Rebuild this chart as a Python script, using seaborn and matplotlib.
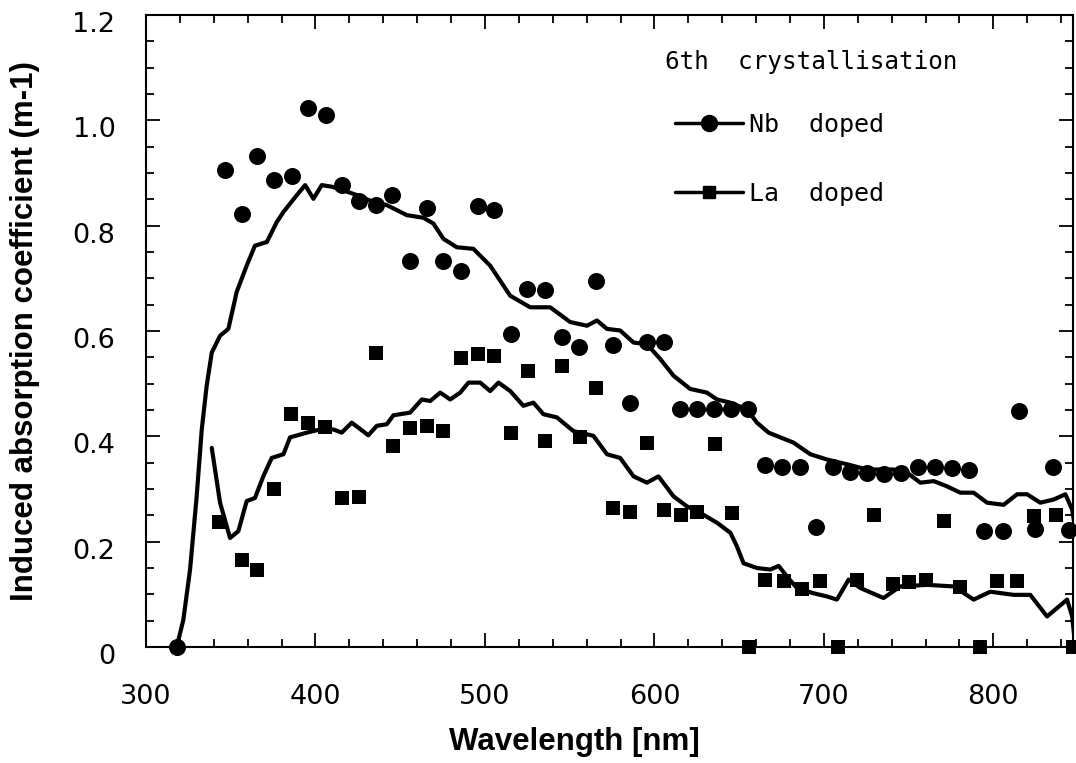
import matplotlib
matplotlib.use("Agg")
import matplotlib.pyplot as plt
import matplotlib.transforms as mtransforms
import seaborn as sns
import pandas as pd
from matplotlib.lines import Line2D
from matplotlib.ticker import MultipleLocator

# ---------------- data ----------------
nb_wl = [318, 346.6, 356.5, 365.7, 375.7, 386, 395.8, 406, 415.7, 425.6, 435.8, 445.4,
         455.8, 465.7, 475.5, 485.8, 496.2, 505.4, 515.3, 525.1, 535.4, 545.4, 555.6,
         565.5, 575.5, 585.7, 595.6, 605.7, 614.9, 625.1, 635.2, 645.1, 655.5, 665,
         675.3, 685.7, 695.6, 705.4, 715.2, 725.5, 735.7, 745.6, 755.3, 765.8, 775.6,
         785.4, 794.7, 805.7, 815, 824.8, 835.2, 844.5]
nb_abs = [0.0, 0.905, 0.822, 0.932, 0.887, 0.895, 1.023, 1.011, 0.878, 0.847, 0.839, 0.858,
          0.733, 0.834, 0.732, 0.714, 0.837, 0.829, 0.594, 0.680, 0.677, 0.589, 0.570,
          0.694, 0.573, 0.464, 0.579, 0.579, 0.451, 0.451, 0.451, 0.451, 0.451, 0.345,
          0.342, 0.342, 0.227, 0.342, 0.333, 0.330, 0.328, 0.331, 0.342, 0.341, 0.339,
          0.336, 0.221, 0.221, 0.448, 0.224, 0.341, 0.222]

la_wl = [343.1, 356.5, 365.7, 375.6, 385.6, 395.8, 405.7, 415.7, 425.6, 435.6, 446,
         455.8, 465.7, 475.5, 485.8, 495.8, 505.4, 515.3, 525.3, 535.5, 545.4, 555.8,
         565.5, 575.5, 585.7, 595.6, 605.8, 615.6, 625.4, 635.9, 645.7, 656.1, 665.4,
         676.2, 687.1, 697.8, 708.3, 719.5, 729.3, 740.7, 750.5, 760.4, 770.6, 780.5,
         792.3, 802.2, 814, 824.2, 837.2, 847]
la_abs = [0.238, 0.165, 0.147, 0.300, 0.442, 0.426, 0.418, 0.282, 0.285, 0.559, 0.381,
          0.416, 0.420, 0.410, 0.549, 0.556, 0.553, 0.407, 0.524, 0.391, 0.534, 0.399,
          0.491, 0.263, 0.257, 0.388, 0.260, 0.250, 0.257, 0.385, 0.255, 0.0, 0.128,
          0.126, 0.111, 0.126, 0.0, 0.127, 0.250, 0.120, 0.124, 0.127, 0.240, 0.113,
          0.0, 0.126, 0.126, 0.249, 0.250, 0.0]

nb_curve_wl = [318.1, 322.0, 326.0, 329.9, 332.9, 335.8, 338.8, 343.7, 348.6, 353.5, 359.4,
               364.3, 371.3, 377.2, 381.1, 389.0, 393.9, 398.8, 403.7, 409.6, 416.5, 424.4,
               434.2, 442.1, 453.9, 463.7, 469.6, 475.5, 483.4, 493.2, 503.1, 514.9, 526.7,
               538.5, 550.3, 560.2, 566.1, 572.0, 579.8, 587.7, 595.6, 603.4, 611.3, 621.1,
               631.0, 636.9, 644.8, 654.6, 660.5, 667.4, 682.1, 692.0, 701.8, 713.6, 725.4,
               741.1, 749.1, 756.9, 764.8, 772.7, 780.5, 788.4, 796.3, 806.1, 814.0, 819.9,
               827.7, 835.6, 842.5, 846.5, 848.4]
nb_curve_abs = [0.0, 0.051, 0.147, 0.286, 0.413, 0.496, 0.559, 0.591, 0.604, 0.674, 0.724,
                0.762, 0.769, 0.807, 0.826, 0.858, 0.877, 0.851, 0.877, 0.874, 0.867, 0.858,
                0.845, 0.839, 0.820, 0.815, 0.804, 0.775, 0.759, 0.756, 0.724, 0.667, 0.645,
                0.645, 0.617, 0.610, 0.620, 0.604, 0.601, 0.578, 0.575, 0.547, 0.515, 0.490,
                0.483, 0.470, 0.464, 0.451, 0.426, 0.407, 0.388, 0.366, 0.356, 0.347, 0.337,
                0.337, 0.331, 0.312, 0.315, 0.305, 0.293, 0.293, 0.274, 0.270, 0.290, 0.290,
                0.274, 0.280, 0.290, 0.261, 0.223]

la_curve_wl = [338.8, 343.7, 349.6, 354.5, 359.4, 364.3, 369.2, 374.2, 381.1, 385.0, 394.9,
               402.7, 410.6, 415.5, 421.4, 431.2, 436.2, 442.1, 446.0, 455.8, 462.8, 467.7,
               473.6, 479.5, 485.4, 490.3, 497.2, 503.1, 508.0, 514.9, 522.7, 528.6, 534.5,
               542.4, 552.2, 564.0, 572.0, 579.8, 587.7, 595.6, 602.4, 611.3, 619.2, 629.0,
               636.9, 644.8, 648.7, 652.6, 660.5, 668.4, 673.3, 678.2, 684.1, 693.9, 701.8,
               707.7, 714.6, 721.5, 735.2, 745.1, 760.9, 776.6, 788.4, 798.2, 812.0, 821.8,
               831.7, 843.5, 846.5, 848.4]
la_curve_abs = [0.378, 0.274, 0.207, 0.220, 0.277, 0.283, 0.324, 0.359, 0.366, 0.398, 0.407,
                0.413, 0.413, 0.407, 0.426, 0.402, 0.420, 0.423, 0.440, 0.445, 0.470, 0.467,
                0.483, 0.470, 0.483, 0.502, 0.502, 0.486, 0.502, 0.486, 0.458, 0.464, 0.442,
                0.436, 0.410, 0.401, 0.366, 0.359, 0.324, 0.312, 0.324, 0.286, 0.267, 0.251,
                0.236, 0.217, 0.191, 0.159, 0.150, 0.147, 0.154, 0.134, 0.112, 0.102, 0.096,
                0.090, 0.128, 0.112, 0.093, 0.115, 0.118, 0.115, 0.090, 0.105, 0.099, 0.099,
                0.058, 0.090, 0.058, 0.0]

x_ticks = [300, 400, 500, 600, 700, 800]
y_ticks = [0, 0.2, 0.4, 0.6, 0.8, 1.0, 1.2]
y_tick_labels = ["0", "0.2", "0.4", "0.6", "0.8", "1.0", "1.2"]
legend_title = "6th  crystallisation"
series_labels = ["Nb  doped", "La  doped"]
x_label = "Wavelength [nm]"
y_label = "Induced absorption coefficient (m-1)"

# ---------------- plotting ----------------
sns.set_style("ticks")
plt.rcParams["font.family"] = ["DejaVu Sans"]
for key in ["text.color", "axes.labelcolor", "xtick.color", "ytick.color", "axes.edgecolor"]:
    plt.rcParams[key] = "black"

fig = plt.figure(figsize=(10.76, 7.63), dpi=100)
ax = fig.add_axes([146 / 1076, 1 - 647 / 763, 927 / 1076, 632 / 763])

nb_pts = pd.DataFrame({"wl": nb_wl, "a": nb_abs})
la_pts = pd.DataFrame({"wl": la_wl, "a": la_abs})
nb_cur = pd.DataFrame({"wl": nb_curve_wl, "a": nb_curve_abs})
la_cur = pd.DataFrame({"wl": la_curve_wl, "a": la_curve_abs})

sns.lineplot(data=nb_cur, x="wl", y="a", ax=ax, color="black", lw=3.0,
             estimator=None, sort=False)
sns.lineplot(data=la_cur, x="wl", y="a", ax=ax, color="black", lw=3.0,
             estimator=None, sort=False)
sns.scatterplot(data=nb_pts, x="wl", y="a", ax=ax, marker="o", s=150, color="black",
                edgecolor="black", linewidth=0, clip_on=False, zorder=5)
sns.scatterplot(data=la_pts, x="wl", y="a", ax=ax, marker="s", s=88, color="black",
                edgecolor="black", linewidth=0, clip_on=False, zorder=5)

ax.set_xlim(300, 847)
ax.set_ylim(0, 1.2)
ax.set_xticks(x_ticks)
ax.set_yticks(y_ticks)
ax.set_yticklabels(y_tick_labels)
ax.xaxis.set_minor_locator(MultipleLocator(20))
ax.yaxis.set_minor_locator(MultipleLocator(0.05))
ax.tick_params(which="both", direction="in", top=True, right=True, width=1.3,
               labelsize=19.5, colors="black")
ax.tick_params(which="minor", length=6)
ax.tick_params(axis="x", which="major", length=10, pad=26.5)
ax.tick_params(axis="y", which="major", length=10, pad=22)
for sp in ax.spines.values():
    sp.set_visible(True)
    sp.set_linewidth(1.5)
    sp.set_color("black")

# y tick labels sit slightly below their ticks in the reference
offset = mtransforms.ScaledTranslation(0, -7 / 100, fig.dpi_scale_trans)
for tick in ax.yaxis.get_major_ticks():
    tick.label1.set_transform(tick.label1.get_transform() + offset)

ax.set_xlabel(x_label, fontsize=22.5, fontweight="bold", family="Liberation Sans")
ax.set_ylabel(y_label, fontsize=22.5, fontweight="bold", family="Liberation Sans")
ax.xaxis.set_label_coords(0.4617, -0.127)
ax.yaxis.set_label_coords(-0.1146, 0.5)

ax.text(0.56, 0.9256, legend_title, transform=ax.transAxes, ha="left", va="center",
        family="DejaVu Sans Mono", fontsize=17.5)
handles = [
    Line2D([], [], color="black", lw=2.5, marker="o", markersize=11.5),
    Line2D([], [], color="black", lw=2.5, marker="s", markersize=8.5),
]
leg = ax.legend(handles, series_labels, loc="center left",
                bbox_to_anchor=(0.5707, 0.772), frameon=False,
                prop={"family": "DejaVu Sans Mono", "size": 18},
                handlelength=2.7, handletextpad=0.25, labelspacing=1.8,
                borderaxespad=0, borderpad=0)

fig.savefig("out.png", dpi=100)
